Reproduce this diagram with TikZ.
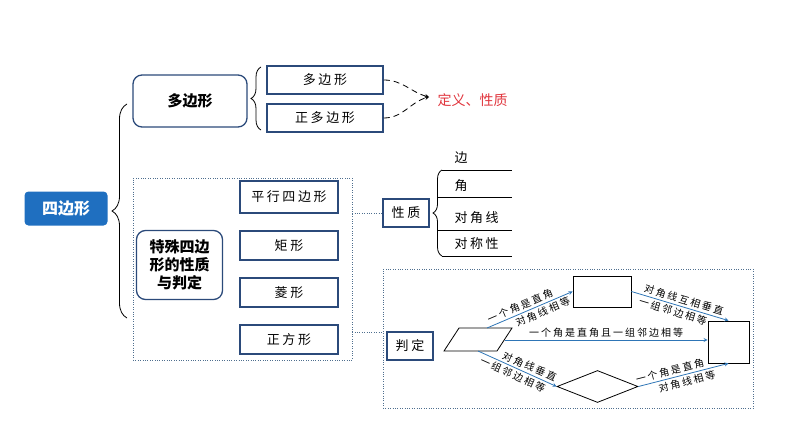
\documentclass[tikz,border=0pt]{standalone}
\usepackage{fontspec}
\setmainfont{Noto Sans CJK SC}
\newfontfamily\spacedfont[LetterSpace=20]{Noto Sans CJK SC}
\usetikzlibrary{shapes.geometric, arrows, decorations.pathreplacing}
\definecolor{topblue}{HTML}{1F6FC0}
\definecolor{boxline}{HTML}{2B4A7A}
\definecolor{arrowblue}{HTML}{2E75B6}
\definecolor{dotline}{HTML}{4F6F8F}
\definecolor{keyred}{HTML}{E0353D}
\tikzstyle{arrow} = [thick,->,>=stealth]
\tikzstyle{itembox} = [draw=boxline, line width=1.5pt, rectangle, inner sep=0pt, font=\spacedfont\fontsize{13}{15}\selectfont]
\tikzstyle{roundbox} = [draw=boxline, line width=1.3pt, rectangle, rounded corners=9pt, inner sep=0pt, font=\bfseries\fontsize{15}{18}\selectfont, align=center]
\tikzstyle{group} = [draw=dotline, dotted, thin, rectangle, inner sep=0pt]
\tikzstyle{shapebox} = [draw, thick, inner sep=0pt]
\tikzstyle{bluearrow} = [->,>=stealth, thick, draw=arrowblue]
\tikzstyle{lbl} = [font=\spacedfont\fontsize{10}{12}\selectfont, inner sep=2pt, sloped]
\tikzstyle{brace} = [decorate, thick]

\begin{document}
\begin{tikzpicture}[x=1pt, y=-1pt]
            \useasboundingbox (0,0) rectangle (794,447);
            % left part
            \node[fill=topblue, rounded corners=4pt, minimum width=83, minimum height=34, text=white, font=\bfseries\fontsize{16}{18}\selectfont] (quad) at (66,208.5) {四边形};
            \draw[brace, decoration={brace, amplitude=15pt}] (127,318) -- (127,104);
            \node[roundbox, minimum width=114, minimum height=52] (poly) at (190,101) {多边形};
            \draw[brace, decoration={brace, amplitude=10pt}] (261,130) -- (261,67);
            \node[itembox, minimum width=116, minimum height=28] (p1) at (325,80) {多边形};
            \node[itembox, minimum width=116, minimum height=28] (p2) at (325,118) {正多边形};
            \coordinate (tip) at (429,97);
            \node[text=keyred, font=\fontsize{14}{16}\selectfont, anchor=west] (defn) at (434,100) {定义、性质};
            \draw[arrow, dash pattern=on 6pt off 4pt] (p1.east) to[out=0, in=165] (tip);
            \draw[arrow, dash pattern=on 6pt off 4pt] (p2.east) to[out=0, in=195] (tip);

            % special quadrilaterals
            \node[group, minimum width=219, minimum height=182] (spec) at (242.5,269) {};
            \node[roundbox, minimum width=86, minimum height=69] (sq4) at (179.5,265) {特殊四边\\形的性质\\与判定};
            \node[itembox, minimum width=98, minimum height=32] (s1) at (289,197) {平行四边形};
            \node[itembox, minimum width=98, minimum height=29] (s2) at (289,245.5) {矩形};
            \node[itembox, minimum width=98, minimum height=29] (s3) at (289,292.5) {菱形};
            \node[itembox, minimum width=98, minimum height=29] (s4) at (289,339.5) {正方形};

            % properties
            \node[itembox, minimum width=46, minimum height=28] (prop) at (406,213) {性质};
            \draw[dotted, draw=dotline] (spec.east |- prop.west) -- (prop.west);
            \draw[brace, decoration={brace, amplitude=9pt}] (442,256) -- (442,170);
            \draw[thick] (442,170) -- (512,170);
            \draw[thick] (437.5,197) -- (512,197);
            \draw[thick] (437.5,230) -- (512,230);
            \draw[thick] (442,256) -- (512,256);
            \node[font=\spacedfont\fontsize{13}{15}\selectfont, anchor=west] (t1) at (451,158) {边};
            \node[font=\spacedfont\fontsize{13}{15}\selectfont, anchor=west] (t2) at (451,186) {角};
            \node[font=\spacedfont\fontsize{13}{15}\selectfont, anchor=west] (t3) at (451,218) {对角线};
            \node[font=\spacedfont\fontsize{13}{15}\selectfont, anchor=west] (t4) at (451,244) {对称性};

            % judgement
            \node[group, minimum width=370, minimum height=139] (judge) at (568,338.5) {};
            \draw[dotted, draw=dotline] (spec.east |- 0,332) -- (judge.west |- 0,332);
            \node[itembox, minimum width=46, minimum height=28] (pan) at (410,346) {判定};
            % parallelogram
            \coordinate (paraN) at (487,328);
            \coordinate (paraE) at (504.5,340);
            \coordinate (paraS) at (478,351);
            \draw[thick] (444,351) -- (459,328) -- (512,328) -- (497,351) -- cycle;
            \node[shapebox, minimum width=58, minimum height=31] (rect) at (602,291.5) {};
            \node[shapebox, minimum width=41, minimum height=42] (sqr) at (728.5,342) {};
            \node[shapebox, diamond, minimum width=81, minimum height=32] (rhomb) at (597.5,386.5) {};
            \draw[bluearrow] (paraN) -- (rect.west)
                node[lbl, pos=0.42, above] {一个角是直角}
                node[lbl, pos=0.62, below] {对角线相等};
            \draw[bluearrow] (paraE) -- (paraE -| sqr.west)
                node[lbl, midway, above] {一个角是直角且一组邻边相等};
            \draw[bluearrow] (paraS) -- (rhomb.west)
                node[lbl, pos=0.62, above] {对角线垂直}
                node[lbl, pos=0.48, below] {一组邻边相等};
            \draw[bluearrow] (rect.east) -- (sqr.north)
                node[lbl, pos=0.52, above] {对角线互相垂直}
                node[lbl, pos=0.45, below] {一组邻边相等};
            \draw[bluearrow] (rhomb.east) -- (sqr.south)
                node[lbl, pos=0.37, above] {一个角是直角}
                node[lbl, pos=0.52, below] {对角线相等};
        \end{tikzpicture}
\end{document}
